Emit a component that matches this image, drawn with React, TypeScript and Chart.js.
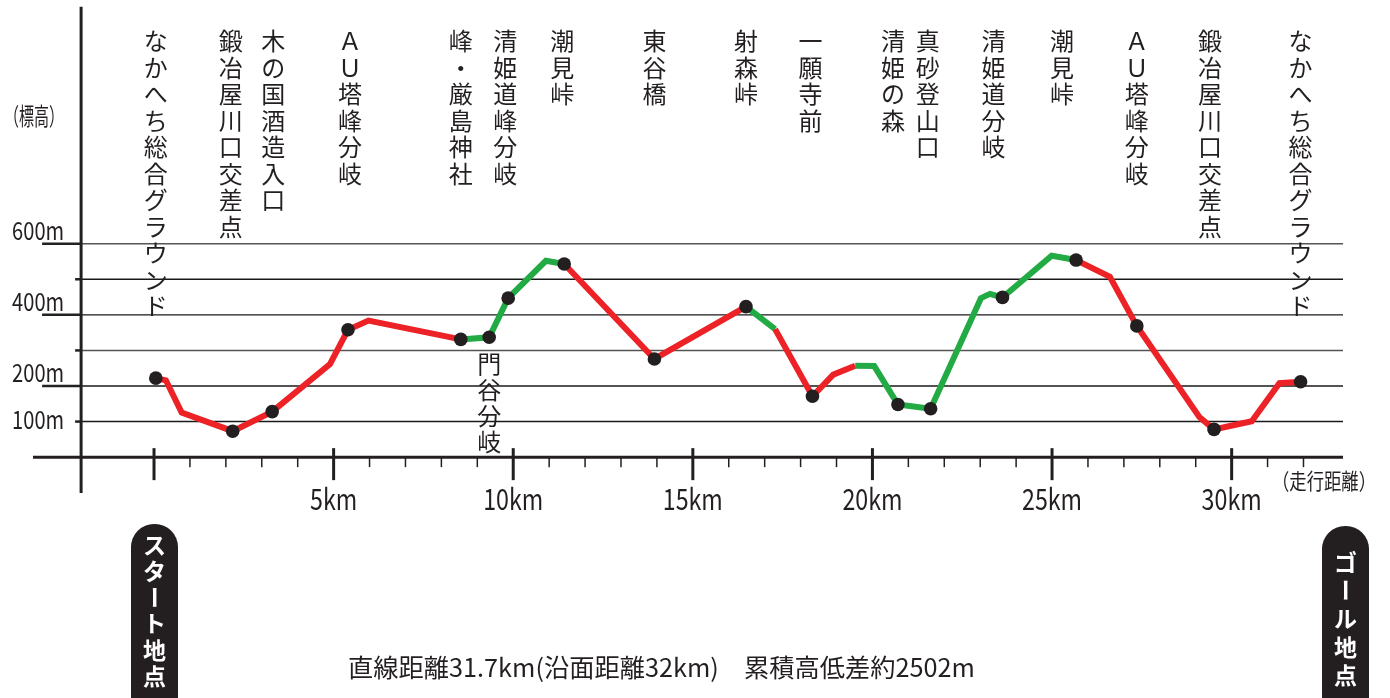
import React, { useEffect, useRef } from "react";
import { Chart, registerables } from "chart.js";

Chart.register(...registerables);

// ---------- data ----------
const distKm = [
  0.05, 0.33, 0.77, 2.19, 3.29, 4.9, 5.4, 5.97, 8.54, 9.33, 9.86, 10.91, 11.42,
  13.93, 16.48, 17.29, 18.33, 18.91, 19.52, 20.05, 20.71, 21.62, 23.02, 23.27,
  23.62, 24.99, 25.67, 26.61, 27.36, 29.1, 29.51, 30.56, 31.33, 31.92,
];
const elevM = [
  222, 216, 125, 73, 128, 262, 358, 384, 331, 337, 447, 552, 543, 276, 423, 360,
  171, 232, 257, 256, 148, 136, 447, 459, 449, 566, 554, 507, 369, 113, 78, 101,
  208, 212,
];
// colour of each segment (from point i to i+1): r = red, g = green
const segKind = [
  "r", "r", "r", "r", "r", "r", "r", "r", "g", "g", "g", "g", "r", "r", "g",
  "r", "r", "r", "g", "g", "g", "g", "g", "g", "g", "g", "r", "r", "r", "r",
  "r", "r", "r",
];
// waypoints (indices into distKm / elevM)
const stopIndex = [0, 3, 4, 6, 8, 9, 10, 12, 13, 14, 16, 20, 21, 24, 26, 28, 30, 33];
const stopNames = [
  "なかへち総合グラウンド",
  "鍛冶屋川口交差点",
  "木の国酒造入口",
  "ＡＵ塔峰分岐",
  "峰・厳島神社",
  "門谷分岐",
  "清姫道峰分岐",
  "潮見峠",
  "東谷橋",
  "射森峠",
  "一願寺前",
  "清姫の森",
  "真砂登山口",
  "清姫道分岐",
  "潮見峠",
  "ＡＵ塔峰分岐",
  "鍛冶屋川口交差点",
  "なかへち総合グラウンド",
];
const stopBelow = [
  false, false, false, false, false, true, false, false, false, false, false,
  false, false, false, false, false, false, false,
];
const elevTicks = [100, 200, 300, 400, 500, 600];
const elevTickLabels = ["100m", "200m", "", "400m", "", "600m"];
const kmMajor = [0, 5, 10, 15, 20, 25, 30];
const kmMajorLabels = ["", "5km", "10km", "15km", "20km", "25km", "30km"];
const kmMinor = [1, 2, 3, 4, 6, 7, 8, 9, 11, 12, 13, 14, 16, 17, 18, 19, 21, 22, 23, 24, 26, 27, 28, 29, 31, 32];
const yTitle = "（標高）";
const xTitle = "（走行距離）";
const summaryText = "直線距離31.7km(沿面距離32km)　累積高低差約2502m";
const startText = "スタート地点";
const goalText = "ゴール地点";

// ---------- layout / style ----------
const RED = "#ec2227";
const GREEN = "#22ab45";
const INK = "#231f20";
const JP = '"Noto Sans CJK JP", "Noto Sans", sans-serif';
const X_MIN = -3.369;
const X_MAX = 33.1;
const Y_MIN = -100.8;
const Y_MAX = 1266;
const AXIS_KM = -2.03;
const labelDx = [0, -2, 1, 2, 0, 0, -3, -2, 0, 0, -2, -5, -3, -9, -14, 0, -4, 0];

function condensed(ctx: CanvasRenderingContext2D, text: string, x: number, y: number, align: CanvasTextAlign, sx: number) {
  ctx.save();
  ctx.translate(x, y);
  ctx.scale(sx, 1);
  ctx.textAlign = align;
  ctx.fillText(text, 0, 0);
  ctx.restore();
}

function fitted(ctx: CanvasRenderingContext2D, text: string, x: number, y: number, align: CanvasTextAlign, width: number) {
  const w = ctx.measureText(text).width;
  condensed(ctx, text, x, y, align, width / w);
}

function vertical(ctx: CanvasRenderingContext2D, text: string, cx: number, cy0: number, pitch: number) {
  const chars = Array.from(text);
  ctx.textAlign = "center";
  ctx.textBaseline = "middle";
  chars.forEach((ch, i) => {
    const cy = cy0 + i * pitch;
    if (ch === "ー") {
      ctx.save();
      ctx.translate(cx, cy);
      ctx.rotate(Math.PI / 2);
      ctx.fillText(ch, 0, 0);
      ctx.restore();
    } else {
      ctx.fillText(ch, cx, cy);
    }
  });
}

const decorPlugin = {
  id: "decor",
  beforeDatasetsDraw(chart: any) {
    const ctx: CanvasRenderingContext2D = chart.ctx;
    const xs = chart.scales.x;
    const ys = chart.scales.y;
    const area = chart.chartArea;
    const axisX = xs.getPixelForValue(AXIS_KM);
    const axisY = ys.getPixelForValue(0);
    ctx.save();
    // gridlines
    elevTicks.forEach((v, i) => {
      const gy = ys.getPixelForValue(v);
      const hasLabel = elevTickLabels[i] !== "";
      ctx.strokeStyle = v === 600 || v === 300 ? "#555" : "#1a1a1a";
      ctx.lineWidth = 1.4;
      ctx.beginPath();
      ctx.moveTo(axisX, gy);
      ctx.lineTo(area.right, gy);
      ctx.stroke();
      // left extension / tick
      ctx.strokeStyle = "#222";
      ctx.lineWidth = 2.5;
      ctx.beginPath();
      const left = hasLabel && v !== 100 ? axisX - 39 : axisX - 6;
      ctx.moveTo(left, gy);
      ctx.lineTo(axisX, gy);
      ctx.stroke();
      if (hasLabel) {
        ctx.fillStyle = "#231f20";
        ctx.font = `25px ${JP}`;
        ctx.textBaseline = "alphabetic";
        fitted(ctx, elevTickLabels[i], axisX - 17, v === 100 ? gy + 7 : gy - 4, "right", 52);
      }
    });
    // axes
    ctx.strokeStyle = "#231f20";
    ctx.lineWidth = 3;
    ctx.beginPath();
    ctx.moveTo(area.left, axisY);
    ctx.lineTo(area.right, axisY);
    ctx.stroke();
    ctx.beginPath();
    ctx.moveTo(axisX, area.top);
    ctx.lineTo(axisX, area.bottom);
    ctx.stroke();
    // x ticks
    kmMajor.forEach((k, i) => {
      const px = xs.getPixelForValue(k);
      ctx.lineWidth = 3;
      ctx.beginPath();
      ctx.moveTo(px, axisY - 9);
      ctx.lineTo(px, axisY + 23);
      ctx.stroke();
      if (kmMajorLabels[i]) {
        ctx.fillStyle = "#231f20";
        ctx.font = `29px ${JP}`;
        ctx.textBaseline = "alphabetic";
        condensed(ctx, kmMajorLabels[i], px, axisY + 53, "center", 0.8);
      }
    });
    kmMinor.forEach((k) => {
      const px = xs.getPixelForValue(k);
      ctx.lineWidth = 1.5;
      ctx.beginPath();
      ctx.moveTo(px, axisY);
      ctx.lineTo(px, axisY + 10);
      ctx.stroke();
    });
    // titles
    ctx.fillStyle = "#231f20";
    ctx.font = `24px ${JP}`;
    ctx.textBaseline = "middle";
    fitted(ctx, yTitle, 4, 116, "left", 60);
    ctx.font = `22px ${JP}`;
    fitted(ctx, xTitle, 1272, 481, "left", 104);
    ctx.restore();
  },
  afterDatasetsDraw(chart: any) {
    const ctx: CanvasRenderingContext2D = chart.ctx;
    const xs = chart.scales.x;
    ctx.save();
    // waypoint names
    ctx.fillStyle = "#231f20";
    ctx.font = `24px ${JP}`;
    stopIndex.forEach((idx, i) => {
      const px = xs.getPixelForValue(distKm[idx]) + labelDx[i];
      if (stopBelow[i]) vertical(ctx, stopNames[i], px, 364, 26);
      else vertical(ctx, stopNames[i], px, 41, 26.5);
    });
    // summary
    ctx.font = `25px ${JP}`;
    ctx.textBaseline = "middle";
    fitted(ctx, summaryText, 348, 667, "left", 627);
    // badges
    const badge = (x: number, top: number, text: string, cy0: number, pitch: number) => {
      ctx.fillStyle = INK;
      ctx.beginPath();
      (ctx as any).roundRect(x, top, 47, 200, 23);
      ctx.fill();
      ctx.fillStyle = "#fff";
      ctx.font = `bold 23px ${JP}`;
      vertical(ctx, text, x + 23.5, cy0, pitch);
    };
    badge(131, 524, startText, 545, 26.2);
    badge(1322, 526, goalText, 562, 28.3);
    ctx.restore();
  },
};

export default function App() {
  const ref = useRef<HTMLCanvasElement | null>(null);
  useEffect(() => {
    if (!ref.current) return;
    const chart = new Chart(ref.current, {
      type: "line",
      data: {
        datasets: [
          {
            data: distKm.map((x, i) => ({ x, y: elevM[i] })),
            borderColor: RED,
            borderWidth: 6,
            borderJoinStyle: "miter",
            borderCapStyle: "butt",
            tension: 0,
            fill: false,
            segment: {
              borderColor: (c: any) => (segKind[c.p0DataIndex] === "g" ? GREEN : RED),
            },
            pointRadius: (c: any) => (stopIndex.includes(c.dataIndex) ? 6.8 : 0),
            pointHoverRadius: (c: any) => (stopIndex.includes(c.dataIndex) ? 6.8 : 0),
            pointBackgroundColor: INK,
            pointBorderWidth: 0,
          } as any,
        ],
      },
      options: {
        responsive: false,
        animation: false,
        devicePixelRatio: 1,
        layout: { padding: { left: 33, right: 47, top: 5, bottom: 205 } },
        plugins: { legend: { display: false }, tooltip: { enabled: false } },
        events: [],
        scales: {
          x: { type: "linear", min: X_MIN, max: X_MAX, display: false },
          y: { type: "linear", min: Y_MIN, max: Y_MAX, display: false },
        },
      },
      plugins: [decorPlugin],
    });
    return () => chart.destroy();
  }, []);
  return (
    <div style={{ position: "absolute", left: 0, top: 0, width: 1390, height: 698, background: "#fff", overflow: "hidden" }}>
      <canvas ref={ref} width={1390} height={698} style={{ display: "block", width: 1390, height: 698 }} />
    </div>
  );
}
